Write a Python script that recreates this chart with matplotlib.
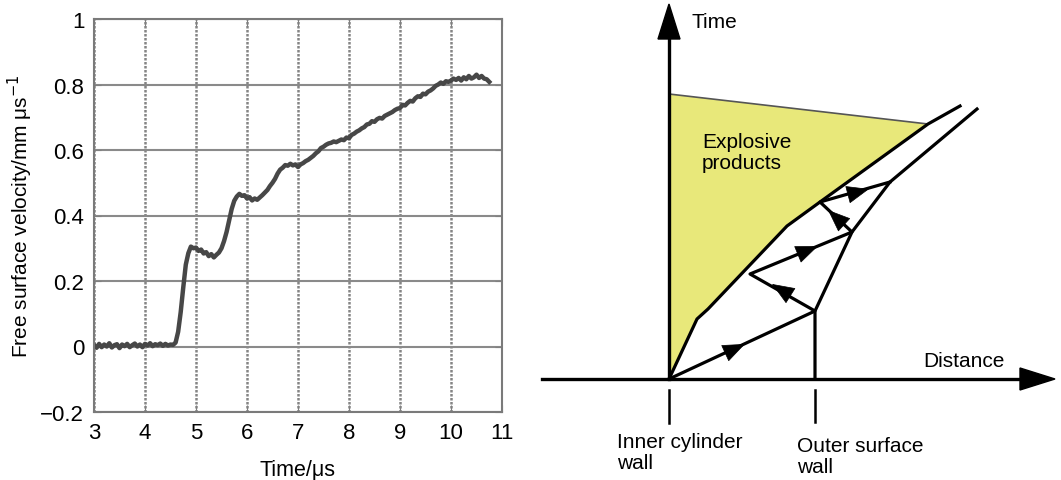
import matplotlib
matplotlib.use("Agg")
import matplotlib.pyplot as plt
from matplotlib.patches import Polygon

plt.rcParams['font.family'] = ['Liberation Sans', 'DejaVu Sans']

# ---- left panel: free surface velocity trace ----
time_us = [3.00, 3.05, 3.10, 3.15, 3.20, 3.25, 3.30, 3.35, 3.40, 3.45, 3.50,
           3.55, 3.60, 3.65, 3.70, 3.75, 3.80, 3.85, 3.90, 3.95, 4.00, 4.05,
           4.10, 4.15, 4.20, 4.25, 4.30, 4.35, 4.40, 4.45, 4.50, 4.55, 4.60,
           4.65, 4.70, 4.75, 4.80, 4.85, 4.90, 4.95, 5.00, 5.05, 5.10, 5.15,
           5.20, 5.25, 5.30, 5.35, 5.40, 5.45, 5.50, 5.55, 5.60, 5.65, 5.70,
           5.75, 5.80, 5.85, 5.90, 5.95, 6.00, 6.05, 6.10, 6.15, 6.20, 6.25,
           6.30, 6.35, 6.40, 6.45, 6.50, 6.55, 6.60, 6.65, 6.70, 6.75, 6.80,
           6.85, 6.90, 6.95, 7.00, 7.05, 7.10, 7.15, 7.20, 7.25, 7.30, 7.35,
           7.40, 7.45, 7.50, 7.55, 7.60, 7.65, 7.70, 7.75, 7.80, 7.85, 7.90,
           7.95, 8.00, 8.05, 8.10, 8.15, 8.20, 8.25, 8.30, 8.35, 8.40, 8.45,
           8.50, 8.55, 8.60, 8.65, 8.70, 8.75, 8.80, 8.85, 8.90, 8.95, 9.00,
           9.05, 9.10, 9.15, 9.20, 9.25, 9.30, 9.35, 9.40, 9.45, 9.50, 9.55,
           9.60, 9.65, 9.70, 9.75, 9.80, 9.85, 9.90, 9.95, 10.00, 10.05, 10.10,
           10.15, 10.20, 10.25, 10.30, 10.35, 10.40, 10.45, 10.50, 10.55,
           10.60, 10.65, 10.70, 10.75]
velocity = [0.005, -0.004, 0.008, -0.002, 0.006, 0.000, 0.010, -0.003, 0.004,
            0.007, -0.005, 0.006, 0.001, 0.008, -0.002, 0.004, 0.009, 0.000,
            0.006, -0.002, 0.008, 0.003, 0.010, 0.001, 0.007, 0.004, 0.009,
            0.002, 0.008, 0.003, 0.006, 0.005, 0.012, 0.045, 0.105, 0.180,
            0.250, 0.285, 0.305, 0.300, 0.302, 0.292, 0.296, 0.284, 0.288,
            0.276, 0.282, 0.272, 0.280, 0.287, 0.300, 0.322, 0.350, 0.385,
            0.420, 0.445, 0.458, 0.466, 0.460, 0.462, 0.452, 0.456, 0.446,
            0.452, 0.448, 0.455, 0.462, 0.470, 0.478, 0.490, 0.500, 0.512,
            0.528, 0.540, 0.546, 0.554, 0.552, 0.558, 0.553, 0.556, 0.548,
            0.556, 0.560, 0.566, 0.570, 0.576, 0.582, 0.590, 0.596, 0.606,
            0.610, 0.616, 0.620, 0.622, 0.626, 0.624, 0.628, 0.632, 0.630,
            0.638, 0.636, 0.646, 0.650, 0.656, 0.660, 0.666, 0.670, 0.678,
            0.680, 0.688, 0.686, 0.694, 0.698, 0.696, 0.704, 0.708, 0.712,
            0.716, 0.722, 0.726, 0.728, 0.738, 0.736, 0.744, 0.750, 0.748,
            0.758, 0.764, 0.762, 0.772, 0.770, 0.778, 0.782, 0.788, 0.796,
            0.800, 0.806, 0.802, 0.810, 0.808, 0.812, 0.818, 0.814, 0.820,
            0.812, 0.822, 0.816, 0.826, 0.818, 0.822, 0.830, 0.820, 0.826,
            0.818, 0.816, 0.808]
x_ticks = [3, 4, 5, 6, 7, 8, 9, 10, 11]
y_ticks = [-0.2, 0, 0.2, 0.4, 0.6, 0.8, 1]
y_tick_labels = ['\u22120.2', '0', '0.2', '0.4', '0.6', '0.8', '1']

# ---- right panel: schematic, positions in picture pixels ----
inner_wall_x = [669, 697, 708, 787, 820, 928, 960]
inner_wall_y = [380, 320, 310, 227, 203, 125, 107]
outer_wall_x = [815, 815, 852, 890, 977]
outer_wall_y = [380, 312, 233, 183, 110]
products_top_x = [669, 928]
products_top_y = [95, 125]
wave_x = [669, 815, 750, 852, 820, 890]
wave_y = [380, 312, 275, 233, 203, 183]
wave_heads = [(745, 345), (772, 285), (818, 247), (828, 211), (869, 190)]

fig = plt.figure(figsize=(10.61, 4.81), dpi=100)

ax = fig.add_axes([94 / 1061, 68 / 481, 408 / 1061, 393 / 481])
ax.plot(time_us, velocity, color='#474747', lw=3.2, solid_joinstyle='round')
ax.set_xlim(3, 11)
ax.set_ylim(-0.2, 1)
ax.set_xticks(x_ticks)
ax.set_yticks(y_ticks)
ax.set_yticklabels(y_tick_labels)
ax.tick_params(labelsize=16, direction='in', length=5, color='#808080',
               top=True, right=True, pad=7)
ax.xaxis.grid(True, color='#858585', lw=1.8, ls=(0, (1.0, 0.6)))
ax.yaxis.grid(True, color='#8a8a8a', lw=1.5)
for s in ax.spines.values():
    s.set_color('#7a7a7a')
    s.set_linewidth(1.5)
ax.set_xlabel('Time/\u03bcs', fontsize=15.5, labelpad=12)
ax.set_ylabel('Free surface velocity/mm \u03bcs$^{\u22121}$', fontsize=15,
              labelpad=4)

# schematic axes mapped 1:1 to picture pixels
ax2 = fig.add_axes([530 / 1061, 0, 531 / 1061, 1])
ax2.set_xlim(530, 1061)
ax2.set_ylim(481, 0)
ax2.axis('off')

fill_pts = list(zip(products_top_x, products_top_y))
fill_pts += list(zip(inner_wall_x, inner_wall_y))[5::-1]
fill_pts += [(669, 380)]
ax2.add_patch(Polygon(fill_pts, closed=True, facecolor='#e8e87a',
                      edgecolor='none', zorder=1))
ax2.plot(products_top_x, products_top_y, color='#555555', lw=1.2, zorder=2)
ax2.plot(inner_wall_x, inner_wall_y, color='black', lw=2.3, zorder=3)
ax2.plot(outer_wall_x, outer_wall_y, color='black', lw=2.3, zorder=3)
ax2.plot(wave_x, wave_y, color='black', lw=2.3, zorder=3)

for i, (hx, hy) in enumerate(wave_heads):
    x0, y0 = wave_x[i], wave_y[i]
    dx, dy = hx - x0, hy - y0
    ax2.annotate('', xy=(hx, hy), xytext=(hx - dx * 0.2, hy - dy * 0.2),
                 arrowprops=dict(arrowstyle='-|>,head_length=0.75,head_width=0.3',
                                 color='black', lw=0.5,
                                 mutation_scale=20, shrinkA=0, shrinkB=0),
                 zorder=4)

# main axes with big heads
ax2.plot([669, 669], [380, 38], color='black', lw=2.4, zorder=3)
ax2.add_patch(Polygon([(658, 40), (680, 40), (669, 5)], closed=True,
                      facecolor='black', edgecolor='black', zorder=4))
ax2.plot([542, 1022], [380, 380], color='black', lw=2.4, zorder=3)
ax2.add_patch(Polygon([(1020, 369), (1020, 391), (1055, 380)], closed=True,
                      facecolor='black', edgecolor='black', zorder=4))

ax2.plot([669, 669], [391, 424], color='black', lw=1.8)
ax2.plot([815, 815], [391, 423], color='black', lw=1.8)

ax2.text(692, 23, 'Time', fontsize=15, va='center', ha='left')
ax2.text(923, 362, 'Distance', fontsize=15, va='center', ha='left')
ax2.text(702, 153, 'Explosive\nproducts', fontsize=15, va='center',
         ha='left', linespacing=1.1)
ax2.text(617, 453, 'Inner cylinder\nwall', fontsize=15, va='center',
         ha='left', linespacing=1.15)
ax2.text(797, 457, 'Outer surface\nwall', fontsize=15, va='center',
         ha='left', linespacing=1.15)

fig.savefig('out.png', dpi=100)
